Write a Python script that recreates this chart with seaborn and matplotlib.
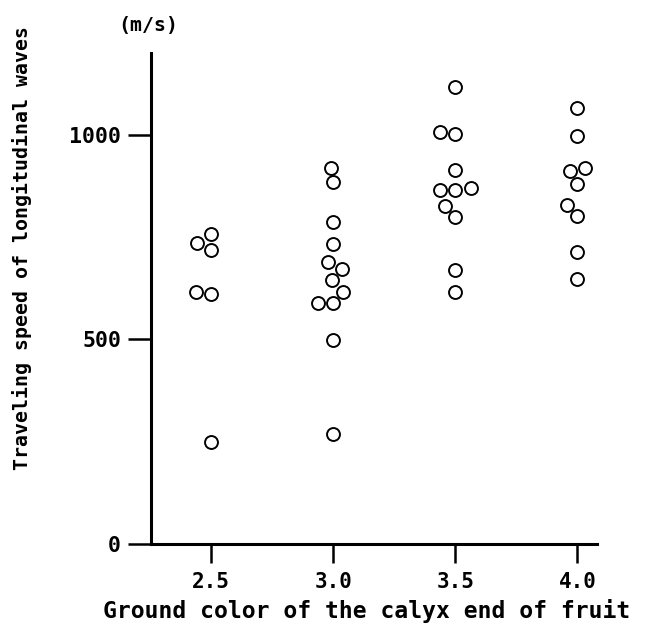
import pandas as pd
import matplotlib
matplotlib.use('Agg')
import matplotlib.pyplot as plt
import seaborn as sns

# values (m/s)
grade_25 = [757, 735, 719, 616, 610, 250]
grade_30 = [920, 884, 788, 732, 688, 672, 644, 617, 588, 588, 499, 269]
grade_35 = [1118, 1007, 1002, 915, 870, 864, 864, 827, 800, 670, 617]
grade_40 = [1065, 996, 920, 912, 880, 829, 802, 714, 648]
grades = [2.5, 3.0, 3.5, 4.0]
grade_labels = ['2.5', '3.0', '3.5', '4.0']
y_ticks = [0, 500, 1000]

rows = []
for g, vals in zip(grades, [grade_25, grade_30, grade_35, grade_40]):
    for v in vals:
        rows.append({'grade': g, 'speed': v})
df = pd.DataFrame(rows)

sns.set_style('ticks')
plt.rcParams['font.family'] = ['DejaVu Sans Mono', 'DejaVu Sans']
plt.rcParams['font.weight'] = 'bold'
plt.rcParams['text.color'] = 'black'

fig = plt.figure(figsize=(6.48, 6.29), dpi=100)
ax = fig.add_axes([151 / 648, 1 - 544 / 629, (597 - 151) / 648, (544 - 53) / 629])

sns.swarmplot(data=df, x='grade', y='speed', native_scale=True, ax=ax,
              marker='o', size=9.3, color='white', edgecolor='black',
              linewidth=1.4)

ax.set_xlim(2.254, 4.08)
ax.set_ylim(0, 1200)
ax.set_xticks(grades)
ax.set_xticklabels(grade_labels)
ax.set_yticks(y_ticks)
ax.set_yticklabels([str(t) for t in y_ticks])

sns.despine(ax=ax)
for side in ['left', 'bottom']:
    ax.spines[side].set_linewidth(2.2)
    ax.spines[side].set_color('black')
ax.tick_params(axis='y', direction='out', length=16.5, width=1.8, pad=5,
               labelsize=15.5, colors='black')
ax.tick_params(axis='x', direction='out', length=14, width=1.8, pad=6,
               labelsize=15, colors='black')
for lbl in ax.get_xticklabels() + ax.get_yticklabels():
    lbl.set_fontweight('bold')

ax.set_xlabel('')
ax.set_ylabel('')
fig.text(367 / 648, 1 - 611 / 629, 'Ground color of the calyx end of fruit',
         ha='center', va='center', fontsize=16.6, fontweight='bold', color='black')
fig.text(22 / 648, 1 - 248 / 629, 'Traveling speed of longitudinal waves',
         ha='center', va='center', rotation=90, fontsize=14.3, fontweight='bold',
         color='black')
fig.text(148 / 648, 1 - 25 / 629, '(m/s)', ha='center', va='center',
         fontsize=14.3, fontweight='bold', color='black')

fig.savefig('out.png', dpi=100, facecolor='white')
